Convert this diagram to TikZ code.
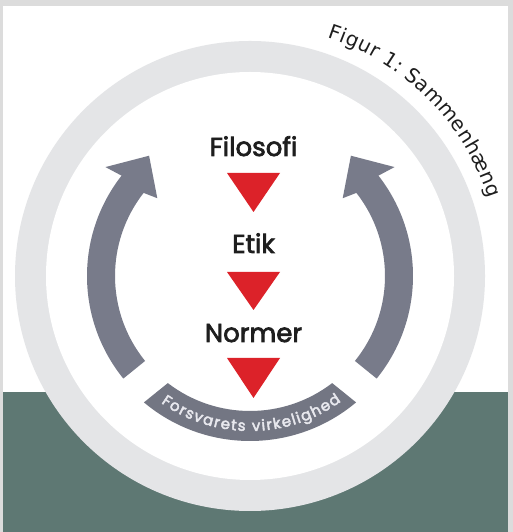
\documentclass[tikz,border=0pt]{standalone}
\usepackage{fontspec}
\setmainfont{Poppins}
\newfontfamily\titlefont{DejaVu Sans}
\usetikzlibrary{decorations.text}

% thicken glyphs by filling and stroking them (text render mode 2)
\newcommand{\heavyglyphs}[1]{\special{pdf:literal direct 2 Tr #1 w}}

\definecolor{framegray}{HTML}{DCDCDC}
\definecolor{ringgray}{HTML}{E4E5E7}
\definecolor{basegreen}{HTML}{5E7873}
\definecolor{arrowgray}{HTML}{787B8A}
\definecolor{bandgray}{HTML}{737683}
\definecolor{flowred}{HTML}{DC2229}
\definecolor{labeldark}{HTML}{1E1E1E}
\definecolor{bandtext}{HTML}{E8E8EE}

\tikzset{
  levellabel/.style={font=\fontsize{26}{28}\selectfont, text=labeldark,
    anchor=base, inner sep=0pt, execute at begin node=\heavyglyphs{0.7}},
  flowmark/.style={fill=flowred},
  cyclearrow/.style={fill=arrowgray},
}

\begin{document}
\begin{tikzpicture}[x=1pt,y=1pt]
  \useasboundingbox (0,0) rectangle (513,532);
  % page frame and green base strip
  \fill[framegray] (0,0) rectangle (513,532);
  \fill[white] (3,0) rectangle (508,526);
  \fill[basegreen] (3,0) rectangle (508,140);

  \begin{scope}[shift={(250,256)}]
    % outer ring
    \fill[ringgray] (0,0) circle[radius=235];
    \fill[white] (0,0) circle[radius=204];

    % left arrow, running upwards
    \fill[cyclearrow] (219:163) arc[start angle=219, end angle=142, radius=163]
      -- (143:181) -- (130:157) -- (140:121) -- (142:135)
      arc[start angle=142, end angle=219, radius=135] -- cycle;
    % right arrow, mirrored
    \begin{scope}[xscale=-1]
      \fill[cyclearrow] (219:163) arc[start angle=219, end angle=142, radius=163]
        -- (143:181) -- (130:157) -- (140:121) -- (142:135)
        arc[start angle=142, end angle=219, radius=135] -- cycle;
    \end{scope}

    % bottom band with its caption
    \fill[bandgray] (230:165) arc[start angle=230, end angle=310, radius=165]
      -- (307.5:135) arc[start angle=307.5, end angle=232.5, radius=135] -- cycle;
    \path[decorate, decoration={text along path, text align={fit to path},
        text={|\fontsize{15}{15}\selectfont\color{bandtext}\heavyglyphs{0.45}|Forsvarets virkelighed}}]
      (235:155) arc[start angle=235, end angle=306, radius=155];

    % title along the outside of the ring
    \path[decorate, decoration={text along path, text align={fit to path},
        text={|\titlefont\fontsize{20}{20}\selectfont\color{labeldark}|Figur 1: Sammenhæng}}]
      (72:251) arc[start angle=72, end angle=18, radius=251];
  \end{scope}

  % levels and the red markers between them
  \node[levellabel] (filosofi) at (253.5,376) {Filosofi};
  \node[levellabel] (etik) at (253.5,279) {Etik};
  \node[levellabel] (normer) at (253.5,190) {Normer};

  \fill[flowmark] (227,359) -- (280,359) -- (253.5,320) -- cycle;
  \fill[flowmark] (227,260) -- (280,260) -- (253.5,222) -- cycle;
  \fill[flowmark] (227,174) -- (280,174) -- (253.5,134) -- cycle;
\end{tikzpicture}
\end{document}
